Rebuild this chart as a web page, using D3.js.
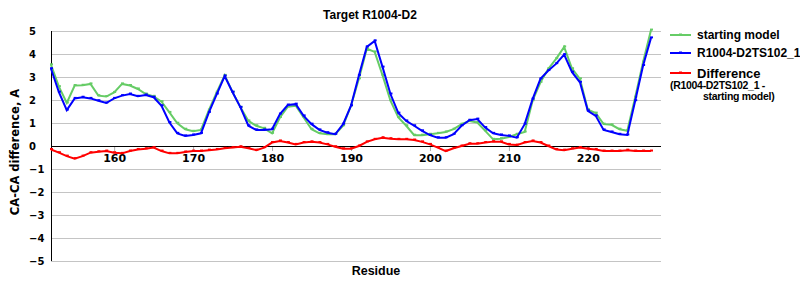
<!DOCTYPE html>
<html>
<head>
  <title>Target R1004-D2</title>
  <script src="https://d3js.org/d3.v7.min.js"></script>
  <style>
    body { margin: 0; background: #fff; }
    text { font-family: "Liberation Sans", Arial, sans-serif; font-weight: bold; }
  </style>
</head>
<body>
  <svg width="800" height="300"></svg>
  <script>
  // residues on the x axis
  var residues = [152,153,154,155,156,157,158,159,160,161,162,163,164,165,166,167,168,169,170,
    171,172,173,174,175,176,177,178,179,180,181,182,183,184,185,186,187,188,189,190,
    191,192,193,194,195,196,197,198,199,200,201,202,203,204,205,206,207,208,209,210,
    211,212,213,214,215,216,217,218,219,220,221,222,223,224,225,226,227,228];

  // starting model
  var startModel = [3.53,2.58,1.87,2.63,2.64,2.70,2.19,2.15,2.33,2.70,2.63,2.48,2.26,2.16,1.93,1.46,0.99,0.73,0.64,
    0.70,1.56,2.34,3.07,2.34,1.68,1.09,0.88,0.77,0.55,1.24,1.71,1.75,1.24,0.73,0.55,0.51,0.51,0.88,1.75,
    2.92,4.23,4.09,3.07,1.97,1.24,0.88,0.47,0.47,0.51,0.55,0.61,0.73,0.95,1.09,1.02,0.66,0.29,0.32,0.39,
    0.51,0.61,1.97,2.77,3.36,3.80,4.31,3.36,2.92,1.58,1.43,0.95,0.92,0.73,0.66,2.12,3.65,5.04];

  // R1004-D2TS102_1
  var model = [3.36,2.34,1.56,2.07,2.12,2.07,1.97,1.87,2.07,2.19,2.26,2.16,2.22,2.12,1.75,1.02,0.55,0.44,0.48,
    0.55,1.46,2.26,3.04,2.34,1.68,0.88,0.70,0.70,0.73,1.39,1.78,1.82,1.31,0.95,0.70,0.58,0.51,0.95,1.75,
    3.07,4.31,4.57,3.43,2.26,1.43,1.09,0.88,0.66,0.47,0.36,0.36,0.51,0.88,1.12,1.17,0.80,0.55,0.48,0.44,
    0.36,0.95,2.04,2.92,3.28,3.58,3.97,3.21,2.77,1.53,1.31,0.70,0.61,0.51,0.48,1.97,3.50,4.70];

  // difference
  var diff = [-0.15,-0.29,-0.44,-0.55,-0.44,-0.29,-0.25,-0.22,-0.29,-0.32,-0.22,-0.15,-0.12,-0.07,-0.22,-0.32,-0.32,-0.26,-0.22,
    -0.22,-0.18,-0.15,-0.10,-0.07,-0.03,-0.10,-0.18,-0.07,0.15,0.22,0.15,0.07,0.15,0.18,0.15,0.07,-0.03,-0.12,-0.12,
    0.00,0.18,0.29,0.36,0.32,0.29,0.29,0.26,0.18,0.07,-0.07,-0.22,-0.10,0.00,0.10,0.10,0.15,0.19,0.18,0.07,
    0.04,0.15,0.22,0.15,0.00,-0.15,-0.18,-0.12,-0.07,-0.12,-0.15,-0.22,-0.22,-0.22,-0.18,-0.22,-0.22,-0.22];

  var xTicks = [160, 170, 180, 190, 200, 210, 220];
  var yTicks = [5, 4, 3, 2, 1, 0, -1, -2, -3, -4, -5];

  var series = [
    { name: "starting model", values: startModel, color: "#66cc66" },
    { name: "R1004-D2TS102_1", values: model, color: "#0000ff" },
    { name: "Difference", values: diff, color: "#ff0000" }
  ];

  var svg = d3.select("svg");
  var left = 51, right = 661;

  var x = d3.scaleLinear().domain([152, 228]).range([51, 651]);
  var y = d3.scaleLinear().domain([-5, 5]).range([261, 31]);

  // gridlines
  svg.append("g").selectAll("line").data(yTicks).enter().append("line")
    .attr("x1", left).attr("x2", right)
    .attr("y1", function(d){ return y(d); }).attr("y2", function(d){ return y(d); })
    .attr("stroke", "#c4c4c4").attr("stroke-width", 1)
    .attr("shape-rendering", "crispEdges");

  // y axis line
  svg.append("line").attr("x1", left).attr("x2", left)
    .attr("y1", y(5)).attr("y2", y(-5))
    .attr("stroke", "#000").attr("shape-rendering", "crispEdges");

  // y tick labels
  svg.append("g").selectAll("text").data(yTicks).enter().append("text")
    .attr("x", 29).attr("y", function(d){ return y(d); })
    .attr("dy", "0.35em")
    .style("font-family", "'DejaVu Sans', sans-serif")
    .style("font-size", "10px")
    .text(function(d){ return d < 0 ? "\u2212" + Math.abs(d) : d; });

  // x axis at zero
  var xAxis = d3.axisBottom(x).tickValues(xTicks).tickSize(5).tickPadding(3)
    .tickFormat(d3.format("d"));
  var gx = svg.append("g").attr("transform", "translate(0," + y(0) + ")").call(xAxis);
  gx.select(".domain").remove();
  gx.selectAll(".tick line").attr("stroke", "#aaa");
  gx.selectAll(".tick text").attr("fill", "#000")
    .style("font-family", "'DejaVu Sans', sans-serif")
    .style("font-size", "11px").style("font-weight", "bold");
  svg.append("line").attr("x1", left).attr("x2", right)
    .attr("y1", y(0)).attr("y2", y(0))
    .attr("stroke", "#000").attr("shape-rendering", "crispEdges");

  // series lines and markers
  var line = d3.line()
    .x(function(d, i){ return x(residues[i]); })
    .y(function(d){ return y(d); });

  series.forEach(function(s) {
    svg.append("path").datum(s.values)
      .attr("d", line)
      .attr("fill", "none")
      .attr("stroke", s.color)
      .attr("stroke-width", 2);
    svg.append("g").selectAll("rect").data(s.values).enter().append("rect")
      .attr("x", function(d, i){ return x(residues[i]) - 1; })
      .attr("y", function(d){ return y(d) - 1.5; })
      .attr("width", 3).attr("height", 2)
      .attr("fill", s.color);
  });

  // title
  svg.append("text").attr("x", 370).attr("y", 19)
    .attr("text-anchor", "middle").style("font-size", "12px")
    .text("Target R1004-D2");

  // axis titles
  svg.append("text").attr("x", 376).attr("y", 275)
    .attr("text-anchor", "middle").style("font-size", "12.5px")
    .text("Residue");
  svg.append("text")
    .attr("transform", "translate(19,152) rotate(-90)")
    .attr("text-anchor", "middle")
    .style("font-family", "'DejaVu Sans', sans-serif")
    .style("font-size", "11.5px")
    .text("CA-CA difference, A");

  // legend
  var legendY = [35, 53, 73];
  var legend = svg.append("g").selectAll("g").data(series).enter().append("g")
    .attr("transform", function(d, i){ return "translate(670," + legendY[i] + ")"; });
  legend.append("line").attr("x1", 0).attr("x2", 21)
    .attr("stroke", function(d){ return d.color; }).attr("stroke-width", 2);
  legend.append("rect").attr("x", 9).attr("y", -1.5).attr("width", 3).attr("height", 2)
    .attr("fill", function(d){ return d.color; });
  legend.append("text").attr("x", 27).attr("dy", "0.35em")
    .style("font-size", function(d, i){ return i == 2 ? "13px" : "12px"; })
    .text(function(d){ return d.name; });

  svg.append("text").attr("x", 670).attr("y", 89)
    .style("font-size", "10.5px").style("letter-spacing", "-0.3px")
    .text("(R1004-D2TS102_1 -");
  svg.append("text").attr("x", 703).attr("y", 100)
    .style("font-size", "10.5px").style("letter-spacing", "-0.3px")
    .text("starting model)");
  </script>
</body>
</html>
